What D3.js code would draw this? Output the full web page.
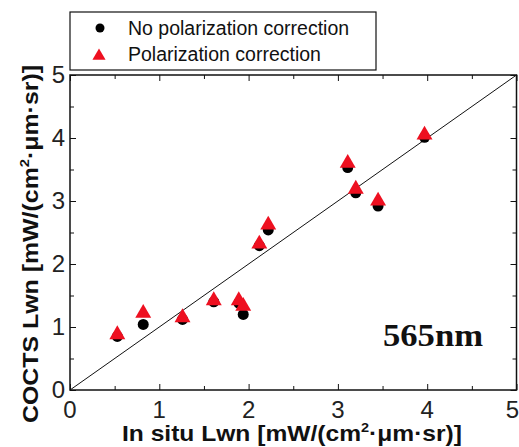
<!DOCTYPE html>
<html>
<head>
<meta charset="utf-8">
<script src="https://cdn.jsdelivr.net/npm/d3@7"></script>
<style>
  html, body { margin: 0; padding: 0; background: #fff; }
  svg { display: block; }
</style>
</head>
<body>
<svg id="chart" width="519" height="447"></svg>
<script>
// In situ vs. COCTS normalized water-leaving radiance at 565 nm
const inSitu      = [0.53, 0.82, 1.26, 1.61, 1.89, 1.94, 2.12, 2.22, 3.11, 3.20, 3.45, 3.97];
const noPolCorr   = [0.85, 1.04, 1.12, 1.40, 1.38, 1.20, 2.29, 2.54, 3.53, 3.13, 2.92, 4.01];
const polCorr     = [0.88, 1.22, 1.15, 1.42, 1.42, 1.33, 2.32, 2.62, 3.60, 3.19, 3.00, 4.05];
const majorTicks  = [0, 1, 2, 3, 4, 5];
const minorTicks  = [0.5, 1.5, 2.5, 3.5, 4.5];
const legendNames = ["No polarization correction", "Polarization correction"];
const bandLabel   = "565nm";

const svg = d3.select("#chart");
const plotL = 70, plotR = 516.5, plotT = 75, plotB = 390;

const x = d3.scaleLinear().domain([0, 5]).range([plotL, plotR]);
const y = d3.scaleLinear().domain([0, 5]).range([plotB, plotT]);

const ink = "#111";
const labelFont = "'Liberation Sans', Arial, sans-serif";

// inward ticks on all four sides
function tickAxis(axisFn, scale, transform, major) {
  const g = svg.append("g").attr("transform", transform);
  g.call(axisFn(scale).tickValues(major ? majorTicks : minorTicks)
    .tickSize(major ? -6 : -4).tickFormat(""));
  g.select(".domain").remove();
  g.selectAll(".tick line").attr("stroke", ink).attr("stroke-width", 1);
  return g;
}
[true, false].forEach(m => {
  tickAxis(d3.axisBottom, x, `translate(0,${plotB})`, m);
  tickAxis(d3.axisTop, x, `translate(0,${plotT})`, m);
  tickAxis(d3.axisLeft, y, `translate(${plotL},0)`, m);
  tickAxis(d3.axisRight, y, `translate(${plotR},0)`, m);
});

// 1:1 line
svg.append("line")
  .attr("x1", x(0)).attr("y1", y(0)).attr("x2", x(5)).attr("y2", y(5))
  .attr("stroke", ink).attr("stroke-width", 1);

// frame
svg.append("rect")
  .attr("x", plotL).attr("y", plotT)
  .attr("width", plotR - plotL).attr("height", plotB - plotT)
  .attr("fill", "none").attr("stroke", ink).attr("stroke-width", 1.5);

// tick labels (the last x label is kept inside the canvas edge)
svg.append("g").selectAll("text").data(majorTicks).join("text")
  .attr("x", d => d === 5 ? 519 : x(d)).attr("y", plotB + 28)
  .attr("text-anchor", d => d === 5 ? "end" : "middle")
  .attr("font-family", labelFont).attr("font-size", 24).attr("fill", "#222")
  .text(d => d);
svg.append("g").selectAll("text").data(majorTicks).join("text")
  .attr("x", plotL - 5).attr("y", d => y(d) + 8)
  .attr("text-anchor", "end")
  .attr("font-family", labelFont).attr("font-size", 24).attr("fill", "#222")
  .text(d => d);

// axis titles
const xTitle = svg.append("text")
  .attr("x", 292).attr("y", 441)
  .attr("text-anchor", "middle")
  .attr("font-family", labelFont).attr("font-weight", "bold")
  .attr("font-size", 22).attr("fill", "#111")
  .attr("textLength", 340).attr("lengthAdjust", "spacingAndGlyphs");
xTitle.append("tspan").text("In situ Lwn [mW/(cm");
xTitle.append("tspan").attr("dy", -9).attr("font-size", 13).text("2");
xTitle.append("tspan").attr("dy", 9).text("·μm·sr)]");

const yTitle = svg.append("text")
  .attr("transform", "translate(38,244) rotate(-90)")
  .attr("text-anchor", "middle")
  .attr("font-family", labelFont).attr("font-weight", "bold")
  .attr("font-size", 22).attr("fill", "#111")
  .attr("textLength", 358).attr("lengthAdjust", "spacingAndGlyphs");
yTitle.append("tspan").text("COCTS Lwn [mW/(cm");
yTitle.append("tspan").attr("dy", -9).attr("font-size", 13).text("2");
yTitle.append("tspan").attr("dy", 9).text("·μm·sr)]");

// data markers
const pts = inSitu.map((v, i) => ({ x: v, a: noPolCorr[i], b: polCorr[i] }));
const tri = d3.symbol().type(d3.symbolTriangle).size(110);

svg.append("g").selectAll("circle").data(pts).join("circle")
  .attr("cx", d => x(d.x)).attr("cy", d => y(d.a)).attr("r", 5.5)
  .attr("fill", "#000");
svg.append("g").selectAll("path").data(pts).join("path")
  .attr("d", tri)
  .attr("transform", d => `translate(${x(d.x)},${y(d.b)})`)
  .attr("fill", "#ee1020");

// band label
svg.append("text")
  .attr("x", 383).attr("y", 346)
  .attr("font-family", "'Liberation Serif', 'Times New Roman', serif")
  .attr("font-weight", "bold").attr("font-size", 32).attr("fill", "#111")
  .attr("textLength", 100).attr("lengthAdjust", "spacingAndGlyphs")
  .text(bandLabel);

// legend
const lg = svg.append("g");
lg.append("rect").attr("x", 70).attr("y", 12).attr("width", 306).attr("height", 58)
  .attr("fill", "#fff").attr("stroke", ink).attr("stroke-width", 1.2);
lg.append("circle").attr("cx", 100).attr("cy", 28).attr("r", 4.5).attr("fill", "#000");
lg.append("path").attr("d", d3.symbol().type(d3.symbolTriangle).size(75))
  .attr("transform", "translate(99,56)").attr("fill", "#ee1020");
lg.selectAll("text.leg").data(legendNames).join("text")
  .attr("class", "leg")
  .attr("x", 128).attr("y", (d, i) => 35 + i * 26)
  .attr("font-family", labelFont).attr("font-size", 19.5).attr("fill", "#111")
  .text(d => d);
</script>
</body>
</html>
